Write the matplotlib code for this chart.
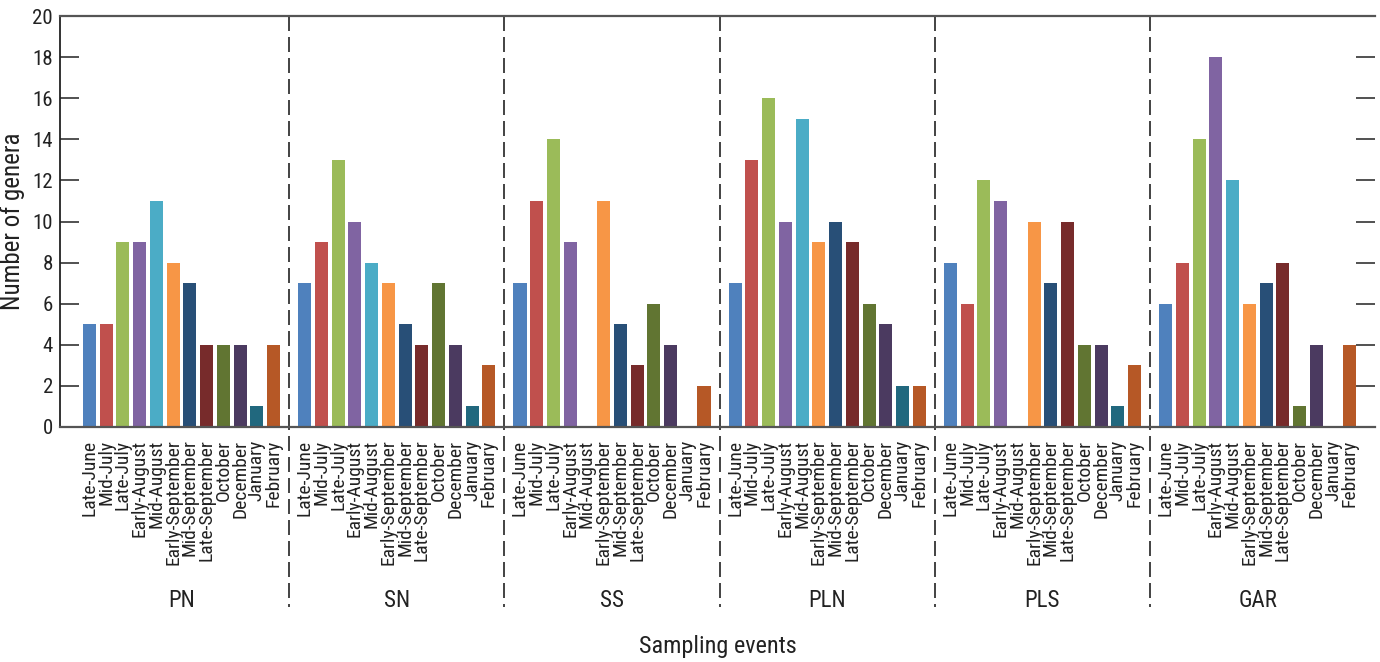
import matplotlib
matplotlib.use("Agg")
import matplotlib.pyplot as plt
from matplotlib.lines import Line2D
import numpy as np

plt.rcParams['font.family'] = ['Roboto Condensed', 'Fira Sans Condensed', 'DejaVu Sans']

# Sampling events within each site and the site names
events = ["Late-June", "Mid-July", "Late-July", "Early-August", "Mid-August",
          "Early-September", "Mid-September", "Late-September", "October",
          "December", "January", "February"]
sites = ["PN", "SN", "SS", "PLN", "PLS", "GAR"]

# Number of genera per sampling event at each site (0 = not sampled / none)
pn = [5, 5, 9, 9, 11, 8, 7, 4, 4, 4, 1, 4]
sn = [7, 9, 13, 10, 8, 7, 5, 4, 7, 4, 1, 3]
ss = [7, 11, 14, 9, 0, 11, 5, 3, 6, 4, 0, 2]
pln = [7, 13, 16, 10, 15, 9, 10, 9, 6, 5, 2, 2]
pls = [8, 6, 12, 11, 0, 10, 7, 10, 4, 4, 1, 3]
gar = [6, 8, 14, 18, 12, 6, 7, 8, 1, 4, 0, 4]
site_values = [pn, sn, ss, pln, pls, gar]

event_colors = ["#4F81BD", "#C0504D", "#9BBB59", "#8064A2", "#4BACC6", "#F79646",
                "#284F77", "#772B2B", "#617532", "#4B3A60", "#21687E", "#B65826"]

fig = plt.figure(figsize=(13.8, 6.62), dpi=100)
ax = fig.add_axes([60 / 1380, 1 - 427 / 662, (1375 - 60) / 1380, (427 - 16) / 662])

group_pitch = 12.866
bar_w = 0.78
xs_all, labels_all = [], []
for g, vals in enumerate(site_values):
    xs = g * group_pitch + np.arange(len(events))
    ax.bar(xs, vals, width=bar_w, color=event_colors, zorder=2)
    xs_all.extend(xs)
    labels_all.extend(events)

ax.set_xlim(-1.763, 76.84)
ax.set_ylim(0, 20)
ax.set_yticks(np.arange(0, 21, 2))
ax.tick_params(axis='y', which='both', direction='in', length=13.5, width=1.1,
               color='#222222', right=True, labelsize=15, pad=5, labelcolor='#222222')
ax.set_xticks(xs_all)
ax.set_xticklabels(labels_all, rotation=90, va='top', ha='center',
                   fontsize=14, color='#222222')
ax.tick_params(axis='x', length=0, pad=9)

for side in ['top', 'bottom']:
    ax.spines[side].set_color('#555555')
    ax.spines[side].set_linewidth(1.6)
ax.spines['left'].set_color('#222222')
ax.spines['left'].set_linewidth(1.3)
ax.spines['right'].set_visible(False)

# Dashed separators between sites, running down through the label area
trans = ax.get_xaxis_transform()
for g in range(len(sites) - 1):
    xb = g * group_pitch + 11 + (group_pitch - 11) / 2
    ln = Line2D([xb, xb], [1.0, -0.438], transform=trans, color='#222222',
                linewidth=1.2, linestyle=(0, (9, 3.6)), clip_on=False)
    ax.add_line(ln)

for g, name in enumerate(sites):
    xc = g * group_pitch + 5.5
    ax.text(xc, -0.421, name, transform=trans, ha='center', va='center',
            fontsize=16.5, color='#222222')

ax.set_ylabel("Number of genera", fontsize=18, color='#222222', labelpad=5)
fig.text((60 + 1375) / 2 / 1380, 1 - 647 / 662, "Sampling events", ha='center',
         va='center', fontsize=17.5, color='#222222')

fig.savefig("out.png", dpi=100)
